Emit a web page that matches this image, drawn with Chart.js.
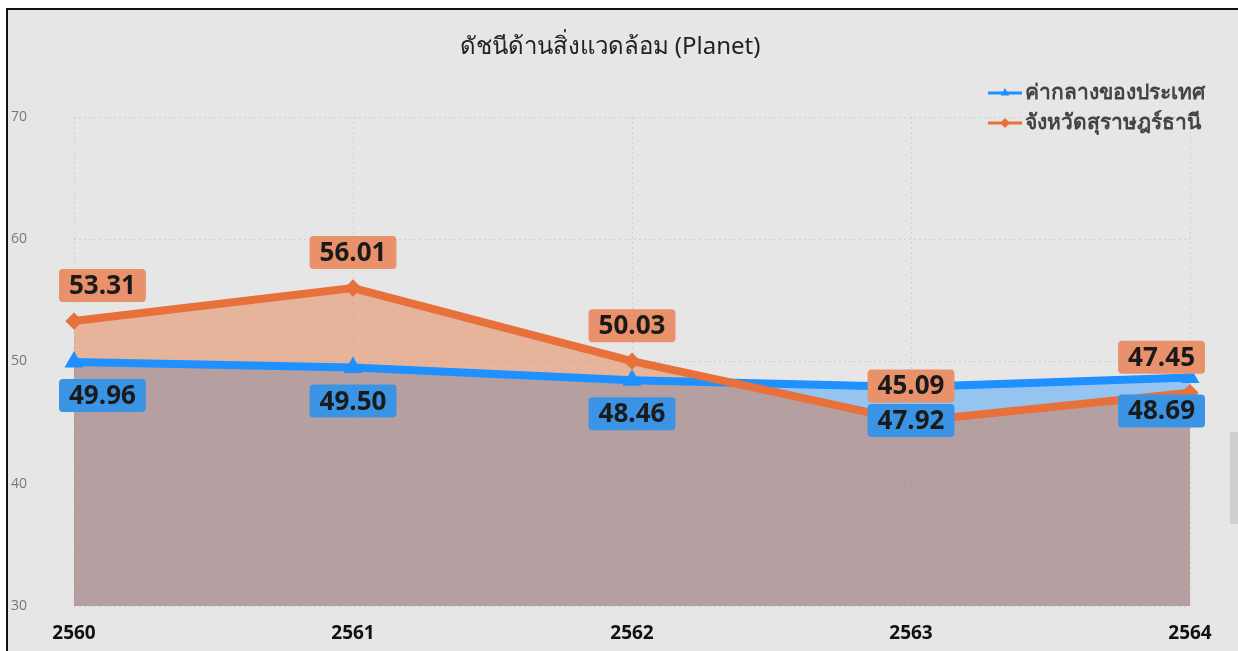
<!DOCTYPE html>
<html>
<head>
<meta charset="utf-8">
<script src="https://cdn.jsdelivr.net/npm/chart.js@4"></script>
<style>
  html, body { margin: 0; padding: 0; background: #fff; width: 1238px; height: 651px; overflow: hidden; }
  #frame { position: absolute; left: 6px; top: 8px; width: 1230px; height: 641px;
           border-left: 2px solid #111; border-top: 2px solid #111; background: #e6e6e6; }
  #scroll { position: absolute; left: 1230px; top: 432px; width: 8px; height: 92px; background: #cfcfcf; }
</style>
</head>
<body>
<div id="frame"><canvas id="planet"></canvas></div>
<div id="scroll"></div>
<script>
// ดัชนีด้านสิ่งแวดล้อม (Planet)
const years = ['2560', '2561', '2562', '2563', '2564'];
const surat = [53.31, 56.01, 50.03, 45.09, 47.45];
const national = [49.96, 49.50, 48.46, 47.92, 48.69];
const yTicks = [30, 40, 50, 60, 70];
const seriesNames = ['จังหวัดสุราษฎร์ธานี', 'ค่ากลางของประเทศ'];

const thaiFont = '"Noto Sans", "Open Sans", sans-serif';

// title + legend drawn by hand
const decor = {
  id: 'decor',
  afterDraw(chart) {
    const ctx = chart.ctx;
    ctx.save();
    ctx.fillStyle = '#222';
    ctx.font = '24px ' + thaiFont;
    ctx.textAlign = 'center';
    ctx.textBaseline = 'middle';
    ctx.fillText('ดัชนีด้านสิ่งแวดล้อม (Planet)', 602, 37);

    const rows = [
      { text: seriesNames[1], color: '#1e90ff', style: 'triangle', y: 83 },
      { text: seriesNames[0], color: '#e8703a', style: 'rectRot', y: 113 }
    ];
    rows.forEach(r => {
      ctx.strokeStyle = r.color;
      ctx.lineWidth = 3;
      ctx.beginPath();
      ctx.moveTo(980, r.y);
      ctx.lineTo(1014, r.y);
      ctx.stroke();
      ctx.fillStyle = r.color;
      Chart.helpers.drawPoint(ctx, { pointStyle: r.style, radius: 5, borderWidth: 0 }, 997, r.y);
      ctx.fillStyle = '#444';
      ctx.font = 'bold 21px ' + thaiFont;
      ctx.textAlign = 'left';
      ctx.fillText(r.text, 1017, r.y);
    });
    ctx.restore();
  }
};

// value boxes
const valueBoxes = {
  id: 'valueBoxes',
  afterDatasetsDraw(chart) {
    const ctx = chart.ctx;
    ctx.save();
    ctx.font = 'bold 26px "Open Sans"';
    ctx.textAlign = 'center';
    ctx.textBaseline = 'middle';
    [1, 0].forEach(i => {
      const ds = chart.data.datasets[i];
      const meta = chart.getDatasetMeta(i);
      meta.data.forEach((pt, j) => {
        const txt = ds.data[j].toFixed(2);
        const w = ctx.measureText(txt).width + 20;
        const h = 33;
        let x = pt.x - w / 2;
        x = Math.max(51, Math.min(x, 1197 - w));
        const y = ds.boxAbove ? pt.y - 19 - h : pt.y + 17;
        ctx.fillStyle = ds.boxColor;
        ctx.beginPath();
        ctx.roundRect(x, y, w, h, 4);
        ctx.fill();
        ctx.fillStyle = '#1a1a1a';
        ctx.fillText(txt, x + w / 2, y + h / 2 + 1);
      });
    });
    ctx.restore();
  }
};

const ctx = document.getElementById('planet').getContext('2d');
const chart = new Chart(ctx, {
  type: 'line',
  plugins: [decor, valueBoxes],
  data: {
    labels: years,
    datasets: [
      {
        label: seriesNames[0],
        data: surat,
        borderColor: '#e8703a',
        backgroundColor: 'rgba(228, 105, 43, 0.4)',
        pointBackgroundColor: '#e8703a',
        pointBorderColor: '#e8703a',
        pointStyle: 'rectRot',
        pointRadius: 3,
        borderWidth: 8,
        fill: 'origin',
        tension: 0,
        boxColor: '#e8916b',
        boxAbove: true
      },
      {
        label: seriesNames[1],
        data: national,
        borderColor: '#1e90ff',
        backgroundColor: 'rgba(30, 144, 255, 0.4)',
        pointBackgroundColor: '#1e90ff',
        pointBorderColor: '#1e90ff',
        pointStyle: 'triangle',
        pointRadius: 3,
        borderWidth: 8,
        fill: 'origin',
        tension: 0,
        boxColor: '#3b93e4',
        boxAbove: false
      }
    ]
  },
  options: {
    responsive: true,
    maintainAspectRatio: false,
    animation: false,
    layout: { padding: { top: 107, right: 48, left: 3, bottom: 0 } },
    scales: {
      x: {
        afterFit: function (scale) { scale.height = 45; },
        grid: { color: 'rgba(205,205,205,0.9)', drawTicks: false },
        border: { display: false, dash: [2, 3] },
        ticks: { color: '#111', padding: 16, font: { family: 'Open Sans', size: 19, weight: 'bold' } }
      },
      y: {
        min: yTicks[0],
        max: yTicks[yTicks.length - 1],
        afterFit: function (scale) { scale.width = 63; },
        afterBuildTicks: function (scale) { scale.ticks = yTicks.map(v => ({ value: v })); },
        grid: { color: 'rgba(205,205,205,0.9)', drawTicks: false },
        border: { display: false, dash: [2, 3] },
        ticks: { color: '#777', crossAlign: 'far', padding: 4, font: { family: 'Open Sans', size: 14 } }
      }
    },
    plugins: {
      filler: { drawTime: 'beforeDatasetsDraw' },
      legend: { display: false },
      title: { display: false },
      tooltip: { enabled: false }
    }
  }
});
</script>
</body>
</html>
